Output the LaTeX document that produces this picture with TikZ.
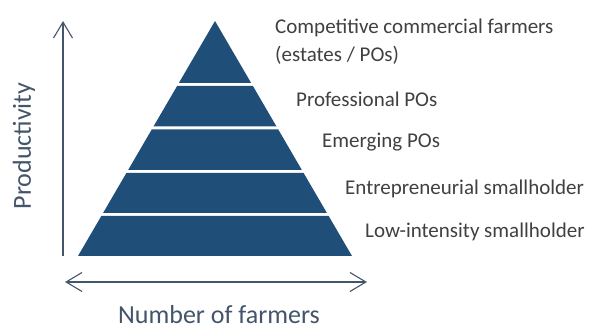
\documentclass[tikz,border=0pt]{standalone}
\usepackage{fontspec}
\setmainfont{Carlito}
\usetikzlibrary{positioning,arrows.meta}
\definecolor{pyrblue}{HTML}{1F4E79}
\definecolor{axisgrey}{HTML}{44546A}
\definecolor{labelgrey}{HTML}{404040}

\begin{document}
\begin{tikzpicture}[x=1pt, y=1pt,
        >={Straight Barb[length=16pt, width=19pt]},
        band/.style={fill=pyrblue, draw=none},
        level/.style={anchor=west, inner sep=0pt, text=labelgrey, font=\fontsize{21}{28}\selectfont, align=left},
        axis/.style={draw=axisgrey, line width=1.1pt},
        axislabel/.style={inner sep=0pt, text=axisgrey, font=\fontsize{26}{30}\selectfont},
    ]
    \useasboundingbox (0,0) rectangle (590,327);

    % pyramid: bands given as top/bottom, measured down from the top edge
    \foreach \t/\b in {21/83, 86/126.5, 129.5/170, 173/213, 216/256} {
        \path[band] ({215-(\t-21)*0.583}, {327-\t}) -- ({215+(\t-21)*0.583}, {327-\t})
            -- ({215+(\b-21)*0.583}, {327-\b}) -- ({215-(\b-21)*0.583}, {327-\b}) -- cycle;
    }

    \node[level] (Competitive) at (275,285) {Competitive commercial farmers\\(estates / POs)};
    \node[level] (Professional) at (296,228) {Professional POs};
    \node[level] (Emerging) at (322,185) {Emerging POs};
    \node[level] (Entrepreneurial) at (345,138) {Entrepreneurial smallholder};
    \node[level] (LowIntensity) at (365,95) {Low-intensity smallholder};

    \coordinate (ybottom) at (63,71);
    \coordinate (ytop) at (63,306);
    \coordinate (xleft) at (65,45);
    \coordinate (xright) at (367,45);

    \draw[axis, ->] (ybottom) -- (ytop);
    \draw[axis, <->] (xleft) -- (xright);

    \node[axislabel, rotate=90] (Productivity) at (24,181) {Productivity};
    \node[axislabel] (Farmers) at (219,12.5) {Number of farmers};
\end{tikzpicture}
\end{document}
